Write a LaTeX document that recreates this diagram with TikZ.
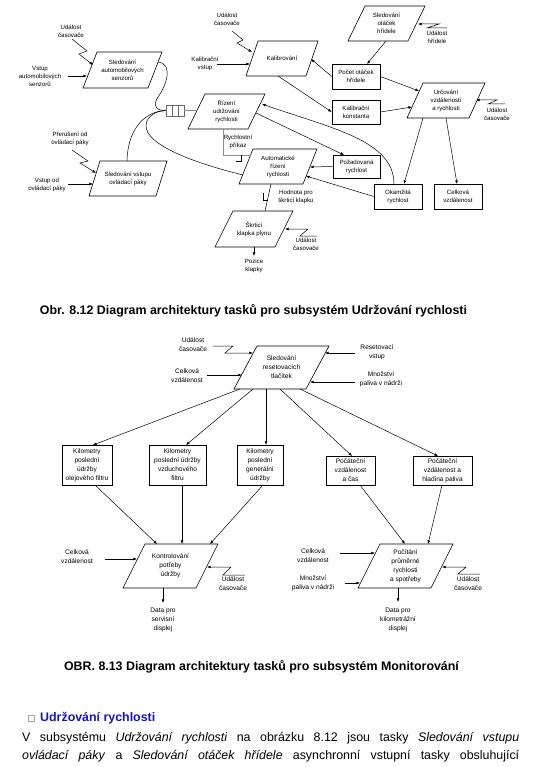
\documentclass[tikz,border=0pt]{standalone}
\usepackage{fontspec}
\setmainfont{Liberation Sans}
\usetikzlibrary{arrows.meta}
\definecolor{hblue}{RGB}{20,20,200}
\newcommand{\pgm}[8]{%
  \draw[line width=0.6pt] (#3,#4) -- ({#3+#5},#4) -- ({#3+#5-#7},{#4+#6}) -- ({#3-#7},{#4+#6}) -- cycle;
  \node[#1] (#2) at ({#3+(#5-#7)/2},{#4+#6/2}) {#8};}
\begin{document}
\begin{tikzpicture}[x=1pt,y=-1pt,
  ln/.style={line width=0.5pt},
  arr/.style={line width=0.5pt,-{Latex[length=3.6pt,width=2.8pt]}},
  gl/.style={draw=black!45,line width=0.9pt},
  ts/.style={font=\fontsize{6.1}{8}\selectfont,align=center,inner sep=0pt},
  tb/.style={font=\fontsize{6.6}{9}\selectfont,align=center,inner sep=0pt},
  rect/.style={draw,line width=0.6pt,inner sep=0pt,align=center},
  captxt/.style={font=\fontsize{12.4}{14}\selectfont\bfseries,inner sep=0pt},
  bodytxt/.style={anchor=west,inner sep=0pt,font=\fontsize{12.4}{14}\selectfont},
]
\useasboundingbox[fill=white] (0,0) rectangle (556,767);

% ---------- top diagram: tasks ----------
\pgm{ts}{senz}{97}{52}{65}{36}{14}{Sledování\\automobilových\\senzorů}
\pgm{ts}{kal}{258}{41}{60}{35}{12}{Kalibrování}
\pgm{ts}{otac}{365}{6}{60}{35}{17}{Sledování\\otáček\\hřídele}
\pgm{ts}{urc}{423}{83}{62}{35}{16}{Určování\\vzdálenosti\\a rychlosti}
\pgm{ts}{riz}{205}{94}{60}{35}{17}{Řízení\\udržování\\rychlosti}
\pgm{ts}{auto}{253}{149}{64}{35}{14}{Automatické\\řízení\\rychlosti}
\pgm{ts}{skrt}{233}{211}{60}{36}{18}{Škrticí\\klapka plynu}
\pgm{ts}{paka}{100}{161}{67}{35}{11}{Sledování vstupu\\ovládací páky}

\node[rect,ts,minimum width=48pt,minimum height=25pt] (pocet) at (356,76.5) {Počet otáček\\hřídele};
\node[rect,ts,minimum width=48pt,minimum height=24pt] (kkonst) at (356,112) {Kalibrační\\konstanta};
\node[rect,ts,minimum width=47pt,minimum height=23pt] (pozad) at (356.5,166.5) {Požadovaná\\rychlost};
\node[rect,ts,minimum width=48pt,minimum height=25pt] (okam) at (398,196.5) {Okamžitá\\rychlost};
\node[rect,ts,minimum width=48pt,minimum height=25pt] (celk) at (458,196.5) {Celková\\vzdálenost};

\node[ts] (evA) at (71,31.5) {Událost\\časovače};
\node[ts] (inA) at (40,76) {Vstup\\automobilových\\senzorů};
\node[ts] (evB) at (227,19) {Událost\\časovače};
\node[ts] (inB) at (205,64) {Kalibrační\\vstup};
\node[ts] (evC) at (437,37.5) {Událost\\hřídele};
\node[ts] (evD) at (497,114) {Událost\\časovače};
\node[ts] (rp) at (238,142) {Rychlostní\\příkaz};
\node[ts] (hod) at (296,197) {Hodnota pro\\škrticí klapku};
\node[ts] (evE) at (306,244) {Událost\\časovače};
\node[ts] (poz) at (254,266) {Pozice\\klapky};
\node[ts] (evF) at (70,139) {Přerušení od\\ovládací páky};
\node[ts] (inF) at (47,185) {Vstup od\\ovládací páky};

% queue
\node[draw=black!60,line width=0.6pt,minimum width=18pt,minimum height=11pt,inner sep=0pt] (q) at (175,110.5) {};
\draw[ln,black!60] (172,105) -- (172,116) (178,105) -- (178,116);
\draw[gl] (q.east) -- (197,110.5);

% connectors top
\draw[arr] (72,39) -- (87,51) -- (79,54) -- (93,65);
\draw[arr] (68,76) -- (87,76);
\draw[arr] (232,31) -- (243,40) -- (237,43) -- (252,52);
\draw[arr] (217,64) -- (250,64);
\draw[arr] (447,28) -- (427,28) -- (439,24) -- (418,24);
\draw[arr] (386,41) -- (367,64);
\draw[arr] (pocet.west) -- (311,59);
\draw[arr] (278,76) -- (kkonst.west);
\draw[arr] (pocet.east) -- (419,91);
\draw[arr] (kkonst.east) -- (412,107);
\draw[arr] (505,104) -- (488,104) -- (497,100) -- (476,100);
\draw[arr] (423,118) -- (404,184);
\draw[arr] (446,118) -- (457,184);
\draw[arr] (394,184) .. controls (394,140) and (330,128) .. (262,104);
\draw[arr] (256,113) -- (344,155);
\draw[arr] (pozad.west) -- (310,167);
\draw[arr] (okam.west) -- (306,176);
\draw[gl] (223,129) -- (223,155) -- (251,155);
\draw[ln] (241,155) -- (241,161) -- (236,161);
\draw[ln] (271,184) -- (265,211);
\draw[ln] (263,193) -- (263,200) -- (268,200);
\draw[arr] (317,236) -- (300,236) -- (308,229) -- (285,229);
\draw[arr] (254,247) -- (254,256);
\draw[arr] (72,150) -- (88,161) -- (80,163) -- (96,173);
\draw[arr] (68,184) -- (93,184);
\draw[ln] (158,62) .. controls (174,64) and (166,86) .. (158,97) .. controls (152,106) and (157,111) .. (q.west);
\draw[ln] (127,161) .. controls (128,125) and (148,111) .. (q.west);
\draw[ln] (243,175) .. controls (190,162) and (138,142) .. (147,121) .. controls (150,114) and (158,111) .. (q.west);

\node[captxt] (cap1) at (253.5,311) {Obr. 8.12 Diagram architektury tasků pro subsystém Udržování rychlosti};

% ---------- bottom diagram ----------
\pgm{tb}{reset}{257}{346}{72}{43}{23}{Sledování\\resetovacích\\tlačítek}
\pgm{tb}{kontr}{145}{544}{73}{44}{22}{Kontrolování\\potřeby\\údržby}
\pgm{tb}{pocit}{380}{544}{73}{44}{22}{Počítání\\průměrné\\rychlosti\\a spotřeby}

\node[rect,tb,minimum width=50pt,minimum height=40pt] (b1) at (87,465) {Kilometry\\poslední\\údržby\\olejového filtru};
\node[rect,tb,minimum width=57pt,minimum height=40pt] (b2) at (177.5,465) {Kilometry\\poslední údržby\\vzduchového\\filtru};
\node[rect,tb,minimum width=46pt,minimum height=40pt] (b3) at (260,465) {Kilometry\\poslední\\generální\\údržby};
\node[rect,tb,minimum width=49pt,minimum height=29pt] (b4) at (350.5,470.5) {Počáteční\\vzdálenost\\a čas};
\node[rect,tb,minimum width=59pt,minimum height=29pt] (b5) at (442.5,470.5) {Počáteční\\vzdálenost a\\hladina paliva};

\node[tb] (evG) at (193,345) {Událost\\časovače};
\node[tb] (inG) at (187,376) {Celková\\vzdálenost};
\node[tb] (inH) at (377,352) {Resetovací\\vstup};
\node[tb] (inI) at (381,379) {Množství\\paliva v nádrži};
\draw[arr] (213,346) -- (233,346) -- (225,353) -- (253,353);
\draw[arr] (207,375) -- (242,375);
\draw[arr] (355,353) -- (325,353);
\draw[arr] (355,382) -- (310,382);

\draw[arr] (240,389) -- (93,445);
\draw[arr] (253,389) -- (186,445);
\draw[arr] (266,389) -- (266,445);
\draw[arr] (280,389) -- (352,456);
\draw[arr] (300,389) -- (438,456);

\draw[arr] (95,485) -- (157,544);
\draw[arr] (182,485) -- (182,544);
\draw[arr] (263,485) -- (210,544);
\draw[arr] (360,485) -- (405,544);
\draw[arr] (442,485) -- (428,544);

\node[tb] (inJ) at (77,557) {Celková\\vzdálenost};
\node[tb] (evJ) at (233,584) {Událost\\časovače};
\node[tb] (outJ) at (163,620) {Data pro\\servisní\\displej};
\draw[arr] (105,559) -- (137,559);
\draw[arr] (245,575) -- (223,575) -- (231,567) -- (207,567);
\draw[arr] (163,588) -- (163,603);

\node[tb] (inK) at (313,556) {Celková\\vzdálenost};
\node[tb] (inL) at (313,583) {Množství\\paliva v nádrži};
\node[tb] (evK) at (468,584) {Událost\\časovače};
\node[tb] (outK) at (398,620) {Data pro\\kilometrážní\\displej};
\draw[arr] (340,553) -- (375,553);
\draw[arr] (345,583) -- (360,583);
\draw[arr] (480,574) -- (458,574) -- (466,567) -- (442,567);
\draw[arr] (398,588) -- (398,602);

\node[captxt] (cap2) at (261.5,667) {OBR. 8.13 Diagram architektury tasků pro subsystém Monitorování};

% ---------- text ----------
\draw[draw=black!35,line width=0.5pt] (28,715) rectangle (34,721);
\node[bodytxt,font=\fontsize{12.4}{14}\selectfont\bfseries,text=hblue] (hd) at (40,718) {Udržování rychlosti};
\node[bodytxt] (p1) at (22,738.5) {\makebox[497pt][s]{V subsystému \textit{Udržování rychlosti} na obrázku 8.12 jsou tasky \textit{Sledování vstupu}}};
\node[bodytxt] (p2) at (22,756.5) {\makebox[497pt][s]{\textit{ovládací páky} a \textit{Sledování otáček hřídele} asynchronní vstupní tasky obsluhující}};
\end{tikzpicture}
\end{document}
